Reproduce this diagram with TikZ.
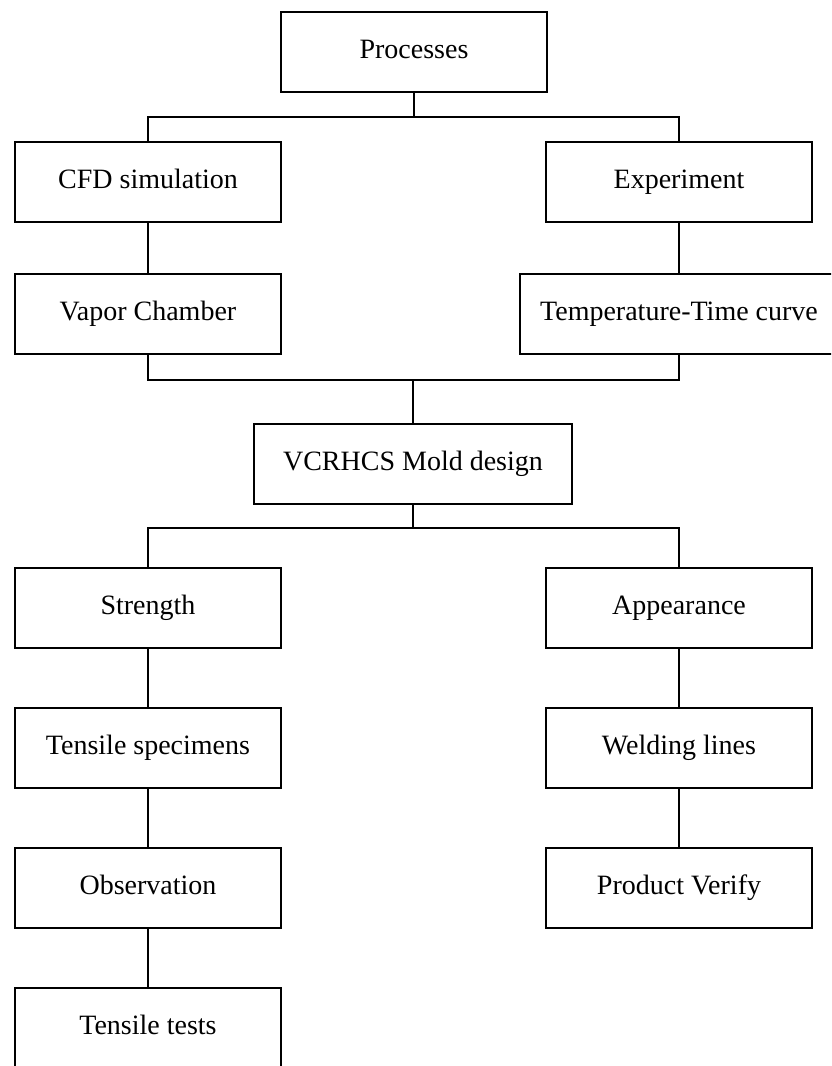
\documentclass[tikz,border=0pt]{standalone}
\usepackage{fontspec}
\setmainfont{Liberation Serif}
\usetikzlibrary{positioning,calc}

\tikzset{
  stage/.style={draw, line width=1.4pt, minimum width=266pt, minimum height=80pt,
    inner sep=0pt, text height=19pt, text depth=6pt,
    font=\fontsize{28}{34}\selectfont},
  widestage/.style={stage, minimum width=318pt},
  link/.style={line width=1.4pt}
}

\begin{document}
\begin{tikzpicture}[x=1pt,y=-1pt]
\useasboundingbox (0,0) rectangle (831,1066);
\clip (0,0) rectangle (831,1066);

\node[stage] (proc) at (414,52) {Processes};

\node[stage] (cfd) at (148,182) {CFD simulation};
\node[stage] (exp) at (679,182) {Experiment};

\node[stage] (vapor) at (148,314) {Vapor Chamber};
\node[widestage] (temp) at (679,314) {Temperature-Time curve};

\node[widestage] (mold) at (413,464) {VCRHCS Mold design};

\node[stage] (strength) at (148,608) {Strength};
\node[stage] (appear) at (679,608) {Appearance};

\node[stage] (tspec) at (148,748) {Tensile specimens};
\node[stage] (weld) at (679,748) {Welding lines};

\node[stage] (obs) at (148,888) {Observation};
\node[stage] (verify) at (679,888) {Product Verify};

\node[stage] (ttest) at (148,1028) {Tensile tests};

% joints
\coordinate (j1) at (414,117);
\coordinate (j2) at (413,380);
\coordinate (j3) at (413,528);

\draw[link] (proc.south) -- (j1);
\draw[link] (cfd.north) |- (j1) -| (exp.north);

\draw[link] (cfd.south) -- (vapor.north);
\draw[link] (exp.south) -- (temp.north);

\draw[link] (vapor.south) |- (j2) -| (temp.south);
\draw[link] (j2) -- (mold.north);

\draw[link] (mold.south) -- (j3);
\draw[link] (strength.north) |- (j3) -| (appear.north);

\draw[link] (strength.south) -- (tspec.north);
\draw[link] (tspec.south) -- (obs.north);
\draw[link] (obs.south) -- (ttest.north);

\draw[link] (appear.south) -- (weld.north);
\draw[link] (weld.south) -- (verify.north);

\end{tikzpicture}
\end{document}
